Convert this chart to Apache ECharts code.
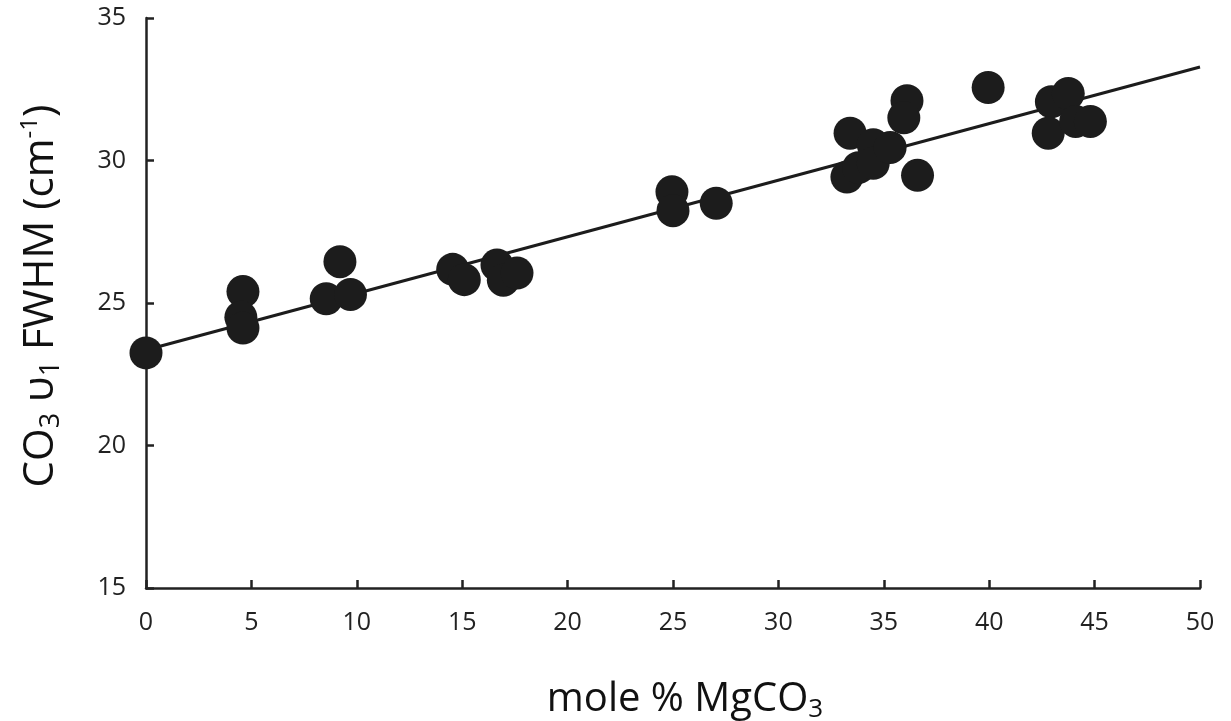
<!DOCTYPE html>
<html>
<head>
<meta charset="utf-8">
<script src="https://cdn.jsdelivr.net/npm/echarts@6/dist/echarts.min.js"></script>
<style>html,body{margin:0;padding:0;background:#fff;}#c{width:1231px;height:721px;}</style>
</head>
<body>
<div id="c"></div>
<script>
// mole % MgCO3
var molePct = [0, 4.6, 4.5, 4.6, 8.55, 9.2, 9.7, 14.55, 15.1, 16.65, 16.95, 17.6,
  24.95, 25.0, 27.05, 33.4, 33.25, 33.8, 34.5, 34.5, 35.3, 36.1, 35.95, 36.6,
  39.95, 42.95, 43.75, 42.8, 44.1, 44.8];
// CO3 v1 FWHM (cm-1)
var fwhm = [23.25, 25.4, 24.5, 24.12, 25.15, 26.45, 25.3, 26.18, 25.82, 26.33, 25.8, 26.05,
  28.9, 28.24, 28.5, 30.96, 29.42, 29.75, 30.55, 29.9, 30.46, 32.1, 31.5, 29.48,
  32.56, 32.06, 32.35, 30.96, 31.37, 31.37];
// linear fit end points
var fitX = [0, 50];
var fitY = [23.35, 33.28];
var xTicks = {min: 0, max: 50, interval: 5};
var yTicks = {min: 15, max: 35, interval: 5};

var pts = molePct.map(function (x, i) { return [x, fwhm[i]]; });
var fit = fitX.map(function (x, i) { return [x, fitY[i]]; });

var FONT = 'Open Sans';
var ink = '#1c1c1c';
var chart = echarts.init(document.getElementById('c'));
chart.setOption({
  backgroundColor: '#fff',
  animation: false,
  textStyle: {fontFamily: FONT},
  grid: {left: 146, right: 31, top: 18, bottom: 133, containLabel: false, outerBoundsMode: 'none'},
  xAxis: {
    type: 'value', min: xTicks.min, max: xTicks.max, interval: xTicks.interval,
    axisLine: {show: true, lineStyle: {color: '#222', width: 2.5}},
    axisTick: {show: true, inside: true, length: 8, lineStyle: {color: '#222', width: 2.5}},
    axisLabel: {color: '#222', fontSize: 25, margin: 22, fontFamily: FONT},
    splitLine: {show: false},
    name: '{b|mole % MgCO}{s|3}',
    nameLocation: 'middle', nameGap: 88,
    nameTextStyle: {
      fontFamily: FONT,
      padding: [0, 0, 0, 24],
      rich: {
        b: {fontSize: 40, color: '#111', fontFamily: FONT, lineHeight: 48},
        s: {fontSize: 26, color: '#111', fontFamily: FONT, lineHeight: 48, padding: [20, 0, 0, 0]}
      }
    }
  },
  yAxis: {
    type: 'value', min: yTicks.min, max: yTicks.max, interval: yTicks.interval,
    axisLine: {show: true, lineStyle: {color: '#222', width: 2.5}},
    axisTick: {show: true, inside: true, length: 8, lineStyle: {color: '#222', width: 2.5}},
    axisLabel: {color: '#222', fontSize: 25, margin: 20, fontFamily: FONT},
    splitLine: {show: false},
    name: '{b|CO}{s|3}{b| υ}{s|1}{b| FWHM (cm}{u|-1}{b|)}',
    nameLocation: 'middle', nameGap: 80, nameRotate: 90,
    nameTextStyle: {
      fontFamily: FONT,
      padding: [0, 0, 0, 14],
      rich: {
        b: {fontSize: 42, color: '#111', fontFamily: FONT, lineHeight: 50},
        s: {fontSize: 27, color: '#111', fontFamily: FONT, lineHeight: 50, padding: [21, 0, 0, 0]},
        u: {fontSize: 24, color: '#111', fontFamily: FONT, lineHeight: 50, padding: [0, 0, 21, 0]}
      }
    }
  },
  series: [
    {
      type: 'line', data: fit, showSymbol: false, symbol: 'none',
      lineStyle: {color: ink, width: 3}, z: 1, silent: true
    },
    {
      type: 'scatter', data: pts, symbol: 'circle', symbolSize: 33,
      itemStyle: {color: ink, opacity: 1}, z: 2
    }
  ]
});
</script>
</body>
</html>
